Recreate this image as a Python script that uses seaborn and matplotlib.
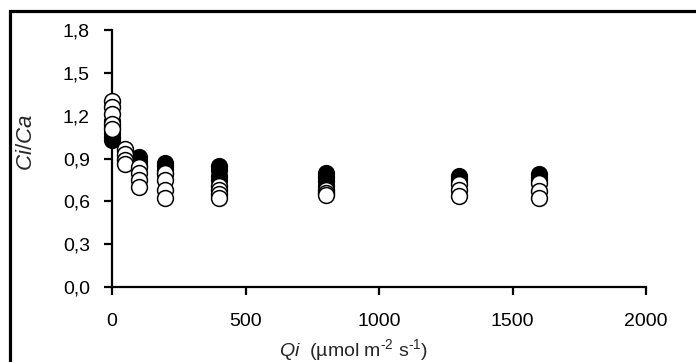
import matplotlib
matplotlib.use("Agg")
import matplotlib.pyplot as plt
import seaborn as sns
import pandas as pd
from matplotlib.patches import Rectangle

# ---- data ----
qi_levels = [0, 50, 100, 200, 400, 800, 1300, 1600]
filled_vals = [
    [1.16, 1.12, 1.08, 1.05, 1.03],
    [0.95, 0.92, 0.90],
    [0.91, 0.88, 0.85],
    [0.87, 0.85, 0.82, 0.79],
    [0.85, 0.82, 0.78, 0.75],
    [0.80, 0.77, 0.74, 0.71],
    [0.78, 0.76, 0.74],
    [0.79, 0.77, 0.75],
]
open_vals = [
    [1.30, 1.26, 1.21, 1.14, 1.11],
    [0.97, 0.93, 0.89, 0.86],
    [0.84, 0.80, 0.75, 0.70],
    [0.80, 0.75, 0.68, 0.62],
    [0.71, 0.68, 0.65, 0.62],
    [0.68, 0.66, 0.645],
    [0.72, 0.68, 0.64],
    [0.73, 0.67, 0.625],
]
y_ticks = [0.0, 0.3, 0.6, 0.9, 1.2, 1.5, 1.8]
y_tick_labels = ["0,0", "0,3", "0,6", "0,9", "1,2", "1,5", "1,8"]
x_ticks = [0, 500, 1000, 1500, 2000]
x_tick_labels = ["0", "500", "1000", "1500", "2000"]

rows = []
for grp, vals in (("filled", filled_vals), ("open", open_vals)):
    for q, vs in zip(qi_levels, vals):
        for v in vs:
            rows.append({"Qi": q, "CiCa": v, "group": grp})
df = pd.DataFrame(rows)

sns.set_style("ticks")
plt.rcParams["font.family"] = ["Liberation Sans", "DejaVu Sans"]
plt.rcParams["mathtext.fontset"] = "custom"
plt.rcParams["mathtext.rm"] = "Liberation Sans"
plt.rcParams["mathtext.it"] = "Liberation Sans:italic"

fig = plt.figure(figsize=(6.96, 3.62), dpi=100)
ax = fig.add_axes([112 / 696, 1 - 287 / 362, (646 - 112) / 696, (287 - 30) / 362])

sns.scatterplot(data=df[df.group == "filled"], x="Qi", y="CiCa", color="black",
                edgecolor="black", linewidth=1.0, s=130, ax=ax, zorder=3, clip_on=False)
sns.scatterplot(data=df[df.group == "open"], x="Qi", y="CiCa", color="white",
                edgecolor="black", linewidth=1.1, s=130, ax=ax, zorder=4, clip_on=False)

ax.set_xlim(0, 2000)
ax.set_ylim(0, 1.8)
ax.set_xticks(x_ticks)
ax.set_xticklabels(x_tick_labels)
ax.set_yticks(y_ticks)
ax.set_yticklabels(y_tick_labels)
ax.tick_params(axis="both", direction="out", length=6, width=1.6, labelsize=14,
               colors="black")
ax.tick_params(axis="y", pad=10)
ax.tick_params(axis="x", pad=13)
for side in ("top", "right"):
    ax.spines[side].set_visible(False)
for side in ("left", "bottom"):
    ax.spines[side].set_linewidth(1.6)
    ax.spines[side].set_color("black")

ax.set_xlabel(r"$\it{Qi}$  (µmol m$^{\text{-2}}$ s$^{\text{-1}}$)", fontsize=14)
ax.set_ylabel(r"$\it{Ci/Ca}$", fontsize=16)
ax.xaxis.set_label_coords((354 - 112) / 534, (287 - 350) / 257)
ax.xaxis.label.set_va("center")
ax.yaxis.set_label_coords((27 - 112) / 534, (287 - 143) / 257)
ax.yaxis.label.set_va("center")
ax.grid(False)

# outer frame
fig.patches.append(Rectangle((10 / 696, -0.05), 1.2, 1 - 11 / 362 + 0.05,
                             transform=fig.transFigure, fill=False,
                             edgecolor="black", linewidth=2.3, zorder=0))

fig.savefig("out.png", dpi=100)
